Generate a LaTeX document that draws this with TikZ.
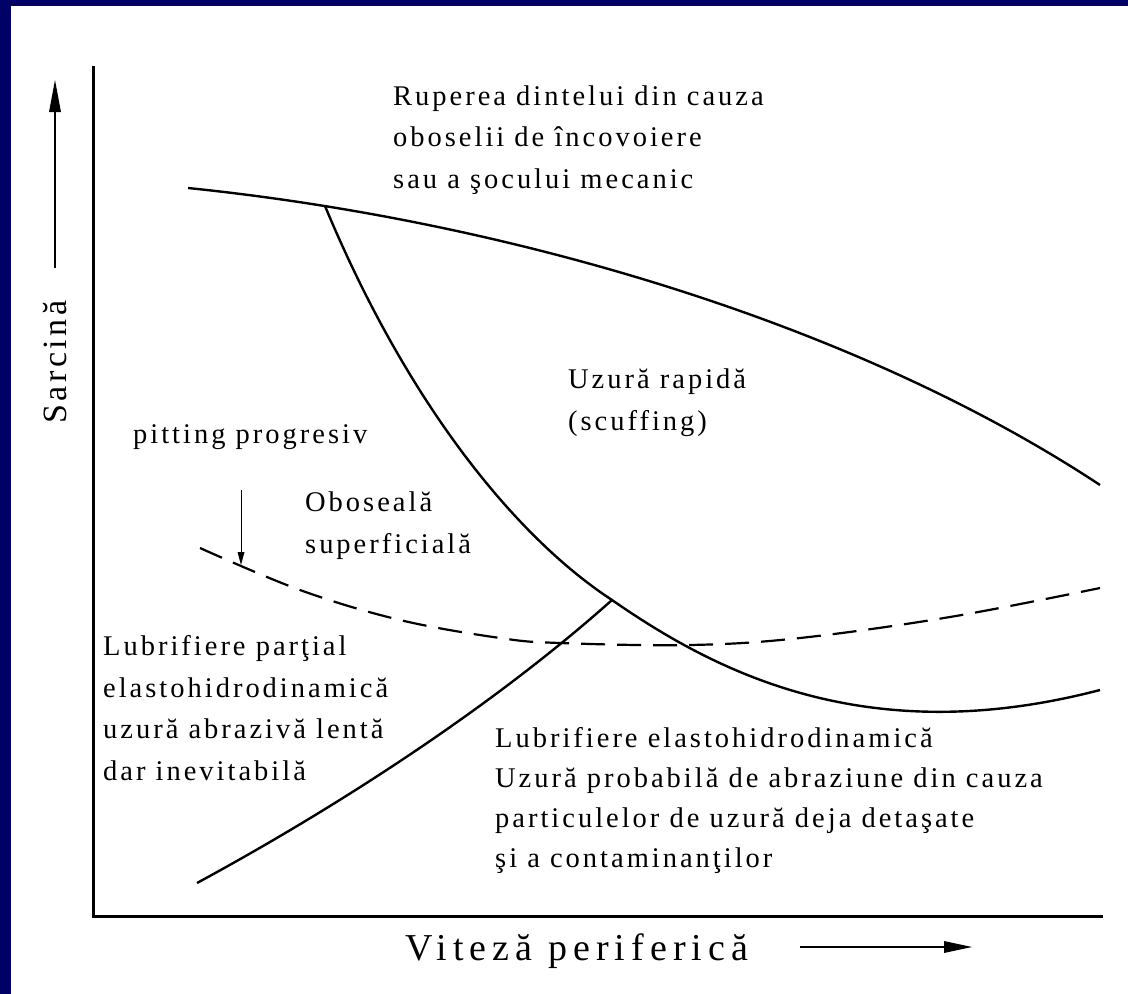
\documentclass[tikz,border=0pt]{standalone}
\usepackage{fontspec}
\setmainfont[LetterSpace=10.5]{Liberation Serif}
\newfontfamily\axisfont[LetterSpace=16]{Liberation Serif}
\usepackage{tikz}
\definecolor{slideblue}{RGB}{0,0,102}

\begin{document}
\begin{tikzpicture}[x=1pt,y=-1pt]
\tikzstyle{every node}+=[inner sep=0pt]
\tikzstyle{region}=[font=\fontsize{28.5}{41.5}\selectfont, align=left, anchor=base west]
\tikzstyle{axislabel}=[font=\fontsize{34}{40}\selectfont]
\tikzstyle{curve}=[black, line width=2.4pt]
\useasboundingbox (0,0) rectangle (1128,994);
\fill [slideblue] (0,0) rectangle (1128,6);
\fill [slideblue] (0,0) rectangle (11,994);
\coordinate (ytop) at (93,66);
\coordinate (origin) at (93,916);
\coordinate (xend) at (1103,916);
\draw [black, line width=3pt] (ytop) -- (origin) -- (xend);
\node [axislabel, rotate=90] (load) at (55,362) {Sarcină};
\coordinate (loadtail) at (55,268);
\coordinate (loadtip) at (55,80);
\draw [black, line width=2.5pt] (loadtail) -- (55,105);
\fill [black] (loadtip) -- (49,112) -- (61,112);
\node [axislabel, font=\axisfont\fontsize{38}{40}\selectfont, anchor=base west] (speed) at (405,960) {Viteză periferică};
\coordinate (speedtail) at (800,947);
\coordinate (speedtip) at (972,947);
\draw [black, line width=2.5pt] (speedtail) -- (950,947);
\fill [black] (speedtip) -- (944,941) -- (944,953);
\coordinate (bend) at (325,206);
\coordinate (fork) at (612,600);
\draw [curve] (188,188) .. controls (500,220) and (850,320) .. (1100,485);
\draw [curve] (bend) .. controls (410,410) and (520,540) .. (fork) .. controls (720,675) and (870,750) .. (1100,690);
\draw [curve] (197,883) .. controls (350,800) and (500,700) .. (fork);
\draw [black, line width=2.2pt, dash pattern=on 24pt off 12pt] plot [smooth, tension=0.6] coordinates {(200,548) (300,590) (400,620) (500,638) (560,643) (690,645) (800,638) (950,617) (1100,588)};
\node [region] (breakage) at (393,188) {Ruperea dintelui din cauza\\oboselii de încovoiere\\sau a şocului mecanic};
\node [region] (scuffing) at (568,430) {Uzură rapidă\\(scuffing)};
\node [region] (pitting) at (133,443) {pitting progresiv};
\node [region] (fatigue) at (305,553) {Oboseală\\superficială};
\node [region] (partial) at (103,780) {Lubrifiere parţial\\elastohidrodinamică\\uzură abrazivă lentă\\dar inevitabilă};
\node [region, font=\fontsize{28.5}{40}\selectfont] (ehd) at (495,867) {Lubrifiere elastohidrodinamică\\Uzură probabilă de abraziune din cauza\\particulelor de uzură deja detaşate\\şi a contaminanţilor};
\coordinate (pittail) at (241,490);
\coordinate (pittip) at (241,565);
\draw [black, line width=0.9pt] (pittail) -- (241,555);
\fill [black] (pittip) -- (237.5,552) -- (244.5,552);
\end{tikzpicture}
\end{document}
